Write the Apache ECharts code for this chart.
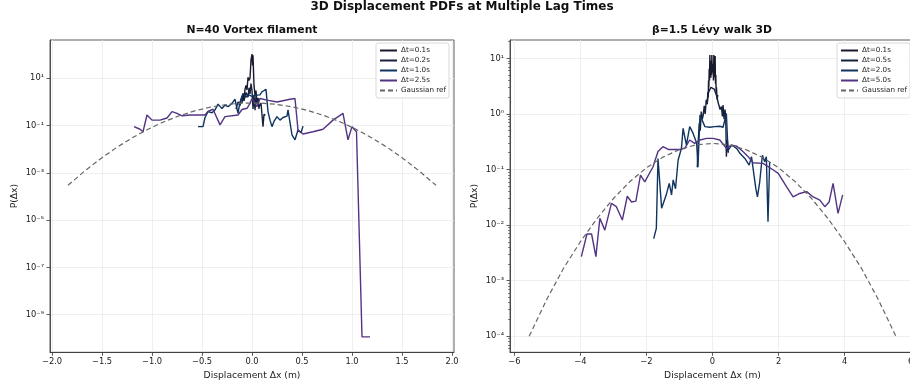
<!DOCTYPE html>
<html>
<head>
<meta charset="utf-8">
<title>3D Displacement PDFs at Multiple Lag Times</title>
<script src="https://cdn.jsdelivr.net/npm/echarts@6/dist/echarts.min.js"></script>
<style>
  html, body { margin: 0; padding: 0; background: #fff; }
  #chart { width: 910px; height: 388px; }
</style>
</head>
<body>
<div id="chart"></div>
<script>
// values: [displacement Δx (m), P(Δx)]

// N=40 vortex filament
const vortexDt01 = [
  [-0.10, 0.9], [-0.09, 2.2], [-0.08, 1.3], [-0.07, 3.5], [-0.06, 5.0], [-0.05, 3.2],
  [-0.04, 11], [-0.03, 8], [-0.02, 10], [-0.01, 60], [0.0, 105], [0.006, 35], [0.01, 95],
  [0.015, 22], [0.02, 5], [0.03, 2.0], [0.04, 3.0], [0.05, 0.8], [0.06, 1.5], [0.07, 0.5]
]
const vortexDt02 = [
  [-0.16, 0.5], [-0.14, 1.0], [-0.12, 0.7], [-0.10, 1.8], [-0.08, 1.1], [-0.06, 2.5],
  [-0.04, 1.6], [-0.03, 4.0], [-0.02, 2.2], [-0.01, 6.0], [0.0, 3.0], [0.01, 0.5],
  [0.02, 2.0], [0.03, 0.45], [0.04, 1.8], [0.05, 0.9], [0.06, 1.4], [0.07, 0.6],
  [0.09, 0.9], [0.11, 0.09], [0.12, 0.3], [0.135, 0.28]
]
const vortexDt10 = [
  [-0.54, 0.09], [-0.49, 0.09], [-0.47, 0.22], [-0.44, 0.39], [-0.40, 0.35], [-0.37, 0.46],
  [-0.34, 0.81], [-0.30, 0.53], [-0.27, 0.74], [-0.24, 0.63], [-0.20, 0.87], [-0.17, 1.3],
  [-0.14, 0.33], [-0.12, 1.0], [-0.09, 2.3], [-0.06, 1.6], [-0.03, 2.0], [0.0, 1.7],
  [0.03, 1.9], [0.05, 2.3], [0.08, 2.0], [0.10, 2.7], [0.14, 3.4], [0.15, 3.6],
  [0.16, 0.39], [0.18, 0.17], [0.20, 0.09], [0.22, 0.15], [0.25, 0.24], [0.28, 0.17],
  [0.31, 0.22], [0.35, 0.25], [0.36, 0.46], [0.40, 0.04], [0.43, 0.025], [0.46, 0.065],
  [0.49, 0.05], [0.51, 0.095]
]
const vortexDt25 = [
  [-1.18, 0.09], [-1.12, 0.07], [-1.09, 0.055], [-1.05, 0.28], [-1.00, 0.17], [-0.92, 0.17],
  [-0.85, 0.21], [-0.80, 0.39], [-0.75, 0.33], [-0.70, 0.26], [-0.62, 0.28], [-0.47, 0.28],
  [-0.44, 0.40], [-0.39, 0.49], [-0.32, 0.107], [-0.27, 0.24], [-0.14, 0.28], [-0.10, 0.48],
  [-0.05, 0.54], [-0.02, 0.87], [0.0, 1.4], [0.05, 0.63], [0.08, 1.4], [0.15, 1.2],
  [0.25, 1.0], [0.38, 1.3], [0.43, 1.4], [0.46, 0.065], [0.51, 0.044], [0.61, 0.055],
  [0.71, 0.07], [0.81, 0.17], [0.91, 0.33], [0.96, 0.025], [1.0, 0.09], [1.045, 0.055],
  [1.10, 1.15e-10], [1.18, 1.15e-10]
]
const vortexGauss = [
  [-1.84, 2.97e-4], [-1.68, 1.13e-3], [-1.52, 3.80e-3], [-1.36, 1.14e-2], [-1.20, 3.00e-2],
  [-1.04, 7.02e-2], [-0.88, 0.145], [-0.72, 0.267], [-0.56, 0.434], [-0.40, 0.624],
  [-0.24, 0.796], [-0.08, 0.898], [0.08, 0.898], [0.24, 0.796], [0.40, 0.624], [0.56, 0.434],
  [0.72, 0.267], [0.88, 0.145], [1.04, 7.02e-2], [1.20, 3.00e-2], [1.36, 1.14e-2],
  [1.52, 3.80e-3], [1.68, 1.13e-3], [1.84, 2.97e-4]
]

// β=1.5 Lévy walk 3D
const levyDt01 = [
  [-0.16, 1.5], [-0.14, 2.5], [-0.13, 2.0], [-0.12, 4.0], [-0.11, 3.0], [-0.10, 6.5],
  [-0.09, 4.0], [-0.08, 11.5], [-0.07, 5.5], [-0.06, 9], [-0.05, 4.5], [-0.04, 7.5],
  [-0.03, 5.0], [-0.02, 11.5], [-0.01, 6.0], [0.0, 8.0], [0.01, 5.5], [0.02, 7.0],
  [0.03, 4.0], [0.04, 11.5], [0.05, 6.0], [0.06, 9.0], [0.07, 4.5], [0.08, 11.0],
  [0.09, 3.5], [0.10, 5.0], [0.11, 2.5], [0.12, 3.0], [0.14, 1.8], [0.16, 2.2]
]
const levyDt05 = [
  [-0.46, 0.11], [-0.43, 0.34], [-0.40, 0.68], [-0.37, 0.5], [-0.34, 1.1], [-0.31, 0.8],
  [-0.28, 0.95], [-0.25, 1.4], [-0.22, 1.0], [-0.19, 1.8], [-0.16, 1.5], [-0.13, 2.3],
  [-0.10, 2.6], [-0.05, 3.0], [0.0, 3.2], [0.05, 2.8], [0.10, 2.6], [0.14, 2.0],
  [0.17, 1.6], [0.20, 1.7], [0.23, 1.2], [0.27, 1.35], [0.30, 0.9], [0.32, 1.45],
  [0.35, 0.8], [0.38, 1.2], [0.40, 0.89], [0.42, 0.17], [0.45, 0.34], [0.48, 0.2]
]
const levyDt20 = [
  [-1.78, 0.0057], [-1.70, 0.0087], [-1.65, 0.158], [-1.54, 0.02], [-1.48, 0.02],
  [-1.40, 0.035], [-1.31, 0.056], [-1.24, 0.035], [-1.19, 0.065], [-1.12, 0.045],
  [-1.04, 0.148], [-0.94, 0.24], [-0.89, 0.55], [-0.79, 0.275], [-0.69, 0.59],
  [-0.59, 0.45], [-0.48, 0.30], [-0.44, 0.11], [-0.38, 0.95], [-0.33, 1.0],
  [-0.23, 0.59], [-0.08, 0.575], [0.07, 0.59], [0.22, 0.6], [0.32, 0.575], [0.42, 1.02],
  [0.47, 0.22], [0.58, 0.275], [0.73, 0.24], [0.83, 0.195], [0.98, 0.158], [1.11, 0.12],
  [1.18, 0.17], [1.24, 0.175], [1.31, 0.046], [1.36, 0.032], [1.43, 0.06], [1.51, 0.18],
  [1.58, 0.138], [1.63, 0.17], [1.68, 0.0115], [1.73, 0.138]
]
const levyDt50 = [
  [-3.97, 0.0027], [-3.80, 0.0069], [-3.66, 0.0069], [-3.53, 0.0027], [-3.41, 0.0132],
  [-3.26, 0.0081], [-3.06, 0.0245], [-2.91, 0.0214], [-2.73, 0.0123], [-2.58, 0.033],
  [-2.45, 0.026], [-2.32, 0.027], [-2.18, 0.079], [-2.05, 0.06], [-1.80, 0.112],
  [-1.65, 0.21], [-1.50, 0.257], [-1.34, 0.229], [-0.99, 0.229], [-0.84, 0.24],
  [-0.69, 0.339], [-0.54, 0.295], [-0.38, 0.339], [-0.18, 0.363], [0.02, 0.363],
  [0.22, 0.339], [0.42, 0.24], [0.58, 0.275], [0.73, 0.263], [0.93, 0.209], [1.08, 0.17],
  [1.23, 0.132], [1.53, 0.129], [1.84, 0.098], [1.99, 0.085], [2.24, 0.049], [2.44, 0.032],
  [2.64, 0.037], [2.85, 0.040], [3.05, 0.032], [3.25, 0.028], [3.40, 0.0214], [3.53, 0.026],
  [3.65, 0.056], [3.80, 0.0162], [3.94, 0.035]
]
const levyGauss = [
  [-5.55, 1.0e-4], [-5.0, 4.8e-4], [-4.5, 1.7e-3], [-4.0, 5.0e-3], [-3.5, 1.3e-2],
  [-3.0, 3.0e-2], [-2.5, 6.06e-2], [-2.0, 0.107], [-1.5, 0.167], [-1.0, 0.229],
  [-0.5, 0.277], [0, 0.295], [0.5, 0.277], [1.0, 0.229], [1.5, 0.167], [2.0, 0.107],
  [2.5, 6.06e-2], [3.0, 3.0e-2], [3.5, 1.3e-2], [4.0, 5.0e-3], [4.5, 1.7e-3],
  [5.0, 4.8e-4], [5.55, 1.0e-4]
]

// tick values
const vortexXTicks = [-2, -1.5, -1, -0.5, 0, 0.5, 1, 1.5, 2]
const vortexYTicks = [1e-9, 1e-7, 1e-5, 1e-3, 1e-1, 1e1]
const levyXTicks = [-6, -4, -2, 0, 2, 4, 6]
const levyYTicks = [1e-4, 1e-3, 1e-2, 1e-1, 1, 1e1]

const vortexNames = ['Δt=0.1s', 'Δt=0.2s', 'Δt=1.0s', 'Δt=2.5s', 'Gaussian ref']
const levyNames = ['Δt=0.1s', 'Δt=0.5s', 'Δt=2.0s', 'Δt=5.0s', 'Gaussian ref']
const lagColors = ['#1a1a2e', '#16213e', '#0f3460', '#533483']

const FONT = 'DejaVu Sans'
const INK = '#222'
const SPINE = '#333'

const SUP = { '-': '⁻', '0': '⁰', '1': '¹', '2': '²', '3': '³', '4': '⁴', '5': '⁵', '6': '⁶', '7': '⁷', '8': '⁸', '9': '⁹' }
const powerLabel = (value) => {
  const exp = String(Math.round(Math.log10(value)))
  return '10' + exp.split('').map((c) => SUP[c]).join('')
}
const minus = (text) => text.replace('-', '\u2212')

// minor ticks of the right-hand log axis (2..9 × 10^k)
const levyMinorTicks = []
for (let k = -5; k <= 1; k++) {
  for (let m = 2; m <= 9; m++) levyMinorTicks.push(m * Math.pow(10, k))
}

const xAxisOf = (gridIndex, min, max, ticks, formatter) => ({
  type: 'value',
  gridIndex,
  min,
  max,
  name: 'Displacement Δx (m)',
  nameLocation: 'middle',
  nameGap: 18,
  nameTextStyle: { fontFamily: FONT, fontSize: 9.2, color: INK },
  axisLine: { show: true, onZero: false, lineStyle: { color: SPINE, width: 0.8 } },
  axisTick: { show: true, length: 3.5, customValues: ticks, lineStyle: { color: SPINE, width: 0.8 } },
  axisLabel: { customValues: ticks, fontFamily: FONT, fontSize: 8.3, color: INK, margin: 6, formatter },
  splitLine: { show: true, lineStyle: { color: '#ebebeb', width: 0.8 } }
})

const yAxisOf = (gridIndex, min, max, ticks) => ({
  type: 'log',
  logBase: 10,
  gridIndex,
  position: 'left',
  min,
  max,
  name: 'P(Δx)',
  nameLocation: 'middle',
  nameGap: 31,
  nameTextStyle: { fontFamily: FONT, fontSize: 9.2, color: INK },
  axisLine: { show: true, onZero: false, lineStyle: { color: SPINE, width: 0.8 } },
  axisTick: { show: true, length: 3.5, customValues: ticks, lineStyle: { color: SPINE, width: 0.8 } },
  axisLabel: { customValues: ticks, fontFamily: FONT, fontSize: 8.3, color: INK, margin: 6, formatter: powerLabel },
  splitLine: { show: true, lineStyle: { color: '#ebebeb', width: 0.8 } },
  minorTick: { show: false },
  minorSplitLine: { show: false }
})

const lineSeries = (name, data, color, axisIndex, dashed) => ({
  type: 'line',
  name,
  data,
  xAxisIndex: axisIndex,
  yAxisIndex: axisIndex,
  symbol: 'none',
  showSymbol: false,
  clip: true,
  lineStyle: dashed
    ? { color: '#666', width: 1.2, type: [5, 3] }
    : { color, width: 1.4 },
  itemStyle: { color: dashed ? '#666' : color },
  emphasis: { disabled: true }
})

const legendOf = (left, names) => ({
  orient: 'vertical',
  left,
  top: 43,
  data: names,
  selectedMode: false,
  itemWidth: 17,
  itemHeight: 8,
  itemGap: 3,
  padding: [4, 3, 4, 3],
  backgroundColor: 'rgba(255,255,255,0.85)',
  borderColor: '#cfcfcf',
  borderWidth: 0.8,
  borderRadius: 2,
  // matplotlib legend handles are plain lines, so hide the marker ECharts adds
  itemStyle: { opacity: 0 },
  textStyle: { fontFamily: FONT, fontSize: 7.2, color: INK, padding: [0, 0, 0, -1] }
})

const chart = echarts.init(document.getElementById('chart'))

chart.setOption({
  animation: false,
  backgroundColor: '#fff',
  textStyle: { fontFamily: FONT },
  title: [
    { text: '3D Displacement PDFs at Multiple Lag Times', left: 462, top: 1, padding: 0, textAlign: 'center',
      textStyle: { fontFamily: FONT, fontSize: 12, fontWeight: 'bold', color: '#111' } },
    { text: 'N=40 Vortex filament', left: 252, top: 25, padding: 0, textAlign: 'center',
      textStyle: { fontFamily: FONT, fontSize: 10.8, fontWeight: 'bold', color: '#111' } },
    { text: 'β=1.5 Lévy walk 3D', left: 712, top: 25, padding: 0, textAlign: 'center',
      textStyle: { fontFamily: FONT, fontSize: 10.8, fontWeight: 'bold', color: '#111' } }
  ],
  legend: [legendOf(376, vortexNames), legendOf(837, levyNames)],
  grid: [
    { left: 50, top: 40, width: 404, height: 312.3, show: true, borderColor: SPINE, borderWidth: 0.8,
      containLabel: false, outerBoundsMode: 'none' },
    { left: 510, top: 40, width: 405, height: 312.3, show: true, borderColor: SPINE, borderWidth: 0.8,
      containLabel: false, outerBoundsMode: 'none' }
  ],
  xAxis: [
    xAxisOf(0, -2.02, 2.02, vortexXTicks, (v) => minus(v.toFixed(1))),
    xAxisOf(1, -6.13, 6.13, levyXTicks, (v) => minus(String(v)))
  ],
  yAxis: [
    yAxisOf(0, Math.pow(10, -10.59), Math.pow(10, 2.62), vortexYTicks),
    yAxisOf(1, Math.pow(10, -4.29), Math.pow(10, 1.33), levyYTicks),
    {
      type: 'log',
      logBase: 10,
      gridIndex: 1,
      position: 'left',
      min: Math.pow(10, -4.29),
      max: Math.pow(10, 1.33),
      axisLine: { show: false, onZero: false },
      axisTick: { show: true, length: 2, customValues: levyMinorTicks, lineStyle: { color: SPINE, width: 0.6 } },
      axisLabel: { show: false },
      splitLine: { show: false }
    }
  ],
  series: [
    lineSeries(vortexNames[0], vortexDt01, lagColors[0], 0),
    lineSeries(vortexNames[1], vortexDt02, lagColors[1], 0),
    lineSeries(vortexNames[2], vortexDt10, lagColors[2], 0),
    lineSeries(vortexNames[3], vortexDt25, lagColors[3], 0),
    lineSeries(vortexNames[4], vortexGauss, null, 0, true),
    lineSeries(levyNames[0], levyDt01, lagColors[0], 1),
    lineSeries(levyNames[1], levyDt05, lagColors[1], 1),
    lineSeries(levyNames[2], levyDt20, lagColors[2], 1),
    lineSeries(levyNames[3], levyDt50, lagColors[3], 1),
    lineSeries(levyNames[4], levyGauss, null, 1, true)
  ]
})
</script>
</body>
</html>
